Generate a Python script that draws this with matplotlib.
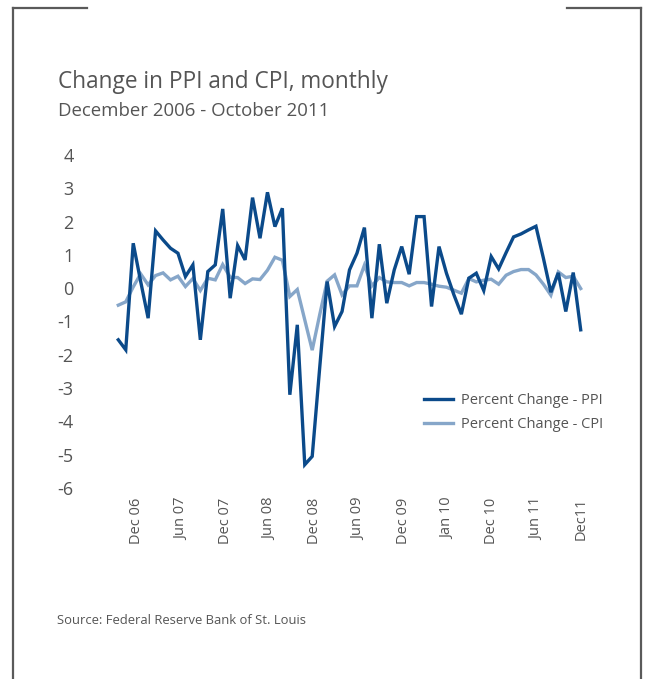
import matplotlib
matplotlib.use("Agg")
import matplotlib.pyplot as plt
import numpy as np
from matplotlib.lines import Line2D

# ---- data (monthly % change) ----
ppi = [-1.55, -1.85, 1.35, 0.2, -0.9, 1.72, 1.45, 1.2, 1.05, 0.35,
       0.7, -1.55, 0.5, 0.7, 2.38, -0.3, 1.28, 0.85, 2.72, 1.5,
       2.88, 1.85, 2.4, -3.2, -1.1, -5.3, -5.05, -2.4, 0.2, -1.15,
       -0.7, 0.55, 1.05, 1.82, -0.9, 1.32, -0.45, 0.55, 1.25, 0.42,
       2.15, 2.15, -0.55, 1.25, 0.45, -0.2, -0.78, 0.3, 0.45, -0.07,
       0.95, 0.58, 1.07, 1.54, 1.63, 1.75, 1.86, 0.9, -0.12, 0.46,
       -0.7, 0.47, -1.25]
cpi = [-0.51, -0.41, 0.04, 0.43, 0.1, 0.38, 0.46, 0.25, 0.36, 0.05,
       0.29, -0.07, 0.3, 0.25, 0.71, 0.33, 0.32, 0.14, 0.28, 0.26,
       0.54, 0.93, 0.84, -0.25, -0.04, -0.95, -1.86, -0.8, 0.21, 0.4,
       -0.2, 0.07, 0.07, 0.69, 0.07, 0.32, 0.19, 0.17, 0.17, 0.07,
       0.17, 0.17, 0.12, 0.06, 0.03, -0.06, -0.15, 0.29, 0.19, 0.24,
       0.27, 0.12, 0.39, 0.5, 0.56, 0.56, 0.4, 0.12, -0.21, 0.49,
       0.32, 0.36, -0.01]
xlabels = ["Dec 06", "Jun 07", "Dec 07", "Jun 08", "Dec 08", "Jun 09",
           "Dec 09", "Jan 10", "Dec 10", "Jun 11", "Dec11"]
yticks = [4, 3, 2, 1, 0, -1, -2, -3, -4, -5, -6]
series_names = ["Percent Change - PPI", "Percent Change - CPI"]

PPI_C = "#0b4a8a"
CPI_C = "#86a6c9"
TXT = "#555555"
FONT = "Open Sans"

W, H = 645, 679
fig = plt.figure(figsize=(W / 100, H / 100), dpi=100)
fig.patch.set_facecolor("white")

# axes placement in pixel terms
L, R = 100, 600
ylo, yhi = -6.25, 4.2
unit = 33.3
zero_px = 288.2
top_px = zero_px - yhi * unit
bot_px = zero_px - ylo * unit
ax = fig.add_axes([L / W, 1 - bot_px / H, (R - L) / W, (bot_px - top_px) / H])

x = np.arange(len(ppi))
s = (580.7 - 118.3) / (len(ppi) - 1)
ax.set_xlim(0 - (118.3 - L) / s, (len(ppi) - 1) + (R - 580.7) / s)
ax.set_ylim(ylo, yhi)

ax.plot(x, cpi, color=CPI_C, lw=2.4, solid_joinstyle="miter", zorder=2)
ax.plot(x, ppi, color=PPI_C, lw=2.4, solid_joinstyle="miter", zorder=3)

for sp in ax.spines.values():
    sp.set_visible(False)
ax.set_yticks(yticks)
ax.set_yticklabels([str(v) for v in yticks], fontsize=13, color=TXT, family=FONT)
ax.tick_params(axis="y", length=0, pad=19)
ax.set_xticks(np.linspace(2.5, 62, len(xlabels)))
ax.set_xticklabels(xlabels, rotation=90, fontsize=10.5, color=TXT, family=FONT,
                   va="top", ha="center")
ax.tick_params(axis="x", length=0, pad=1)

# legend
handles = [Line2D([], [], color=PPI_C, lw=2.4), Line2D([], [], color=CPI_C, lw=2.4)]
leg = fig.legend(handles, series_names, loc="upper left",
                 bbox_to_anchor=(411 / W, 1 - 380 / H), frameon=False,
                 prop={"family": FONT, "size": 10.5}, labelcolor=TXT,
                 handlelength=1.95, handletextpad=0.6, labelspacing=0.62)

# titles and source
fig.text(58 / W, 1 - 82 / H, "Change in PPI and CPI, monthly", fontsize=16.3,
         color=TXT, family=FONT, va="center", ha="left")
fig.text(58 / W, 1 - 111 / H, "December 2006 - October 2011", fontsize=13.4,
         color=TXT, family=FONT, va="center", ha="left")
fig.text(57 / W, 1 - 621 / H, "Source: Federal Reserve Bank of St. Louis", fontsize=9.4,
         color=TXT, family=FONT, va="center", ha="left")

# frame
fc = "#5a5a5a"
def fl(xs, ys):
    fig.add_artist(Line2D([v / W for v in xs], [1 - v / H for v in ys],
                          color=fc, lw=1.6, solid_capstyle="projecting"))
fl([13, 13], [679, 8])
fl([13, 87], [8, 8])
fl([567, 641], [8, 8])
fl([641, 641], [8, 679])

fig.savefig("out.png", dpi=100)
